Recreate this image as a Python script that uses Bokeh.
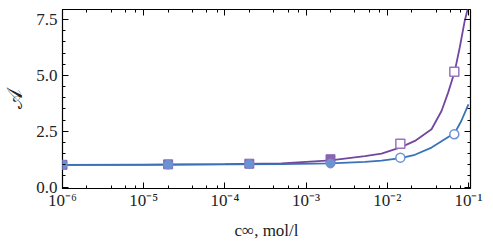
from bokeh.plotting import figure
from bokeh.models import (LinearAxis, LogAxis, Range1d, FixedTicker, LogTicker,
                          CustomJSTickFormatter, PrintfTickFormatter)
from bokeh.embed import file_html
from bokeh.resources import INLINE

# curves
purple_x = [1e-6, 1e-5, 1e-4, 5e-4, 2e-3, 5.3e-3, 8.5e-3, 1.46e-2, 2.19e-2, 3.51e-2,
            4.66e-2, 5.62e-2, 6.76e-2, 7.82e-2, 9.01e-2, 0.1]
purple_y = [1.0, 1.01, 1.03, 1.06, 1.2, 1.39, 1.5, 1.78, 2.07, 2.59,
            3.41, 4.23, 5.16, 6.26, 7.45, 8.1]
blue_x = [1e-6, 1e-5, 1e-4, 5e-4, 2e-3, 5.3e-3, 8.5e-3, 1.46e-2, 2.19e-2, 3.51e-2,
          5.1e-2, 6.76e-2, 8.16e-2, 0.1]
blue_y = [1.0, 1.0, 1.02, 1.03, 1.06, 1.13, 1.19, 1.3, 1.45, 1.77,
          2.14, 2.42, 2.96, 3.7]

# markers
conc_filled = [1e-6, 2e-5, 2e-4, 2e-3]
sq_filled = [1.0, 1.02, 1.05, 1.25]
circ_filled = [1.0, 1.01, 1.03, 1.06]
conc_open = [1.45e-2, 6.7e-2]
sq_open = [1.94, 5.16]
circ_open = [1.32, 2.37]

# y ticks
y_major = [0.0, 2.5, 5.0, 7.5]
y_minor = [0.5, 1.0, 1.5, 2.0, 3.0, 3.5, 4.0, 4.5, 5.5, 6.0, 6.5, 7.0]

FONT = "Liberation Serif"
PURPLE = "#72479f"
PURPLE_M = "#9a74bd"
BLUE = "#3a72b8"
BLUE_M = "#6d92d2"

p = figure(width=493, height=244, x_axis_type="log", output_backend="svg",
           toolbar_location=None, x_range=Range1d(1e-6, 0.106),
           y_range=Range1d(-0.06, 7.95), min_border_left=60, min_border_right=23,
           min_border_top=9, min_border_bottom=56)
p.grid.visible = False
p.outline_line_color = "black"
p.outline_line_width = 1.2

p.line(purple_x, purple_y, line_color=PURPLE, line_width=1.8)
p.line(blue_x, blue_y, line_color=BLUE, line_width=1.8)

p.scatter(conc_filled, sq_filled, marker="square", size=9, fill_color="#8a64b0",
          line_color="#8a64b0")
p.scatter(conc_filled, circ_filled, marker="circle", size=9, fill_color=BLUE_M,
          line_color=BLUE_M)
p.scatter(conc_open, sq_open, marker="square", size=9, fill_color="white",
          line_color=PURPLE_M, line_width=1.5)
p.scatter(conc_open, circ_open, marker="circle", size=9, fill_color="white",
          line_color=BLUE_M, line_width=1.5)

fmt = CustomJSTickFormatter(code="""
const sup = {'-':'\\u207b','0':'\\u2070','1':'\\u00b9','2':'\\u00b2','3':'\\u00b3','4':'\\u2074',
'5':'\\u2075','6':'\\u2076','7':'\\u2077','8':'\\u2078','9':'\\u2079'};
const e = String(Math.round(Math.log10(tick)));
return '10' + e.split('').map(c => sup[c]).join('');
""")

xt = LogTicker(desired_num_ticks=6)
yt = FixedTicker(ticks=y_major, minor_ticks=y_minor)

xa = p.xaxis[0]
xa.ticker = xt
xa.formatter = fmt
xa.axis_label = "c\u221e, mol/l"
ya = p.yaxis[0]
ya.ticker = yt
ya.formatter = PrintfTickFormatter(format="%.1f")
ya.axis_label = "\U0001D49C"

top = LogAxis(ticker=xt)
right = LinearAxis(ticker=yt)
for ax in (top, right):
    ax.major_label_text_font_size = "1px"
    ax.major_label_text_color = None
    ax.major_label_standoff = 0
p.add_layout(top, "above")
p.add_layout(right, "right")

for ax in (xa, ya, top, right):
    ax.major_tick_in = 6
    ax.major_tick_out = 0
    ax.minor_tick_in = 3
    ax.minor_tick_out = 0
    ax.axis_line_color = None
    ax.major_tick_line_color = "black"
    ax.minor_tick_line_color = "black"
for ax in (xa, ya):
    ax.major_label_text_font = FONT
    ax.major_label_text_font_size = "17px"
    ax.major_label_text_color = "#222222"
    ax.axis_label_text_font = FONT
    ax.axis_label_text_font_size = "17px"
    ax.axis_label_text_font_style = "normal"
    ax.axis_label_text_color = "#222222"
ya.axis_label_text_font_size = "21px"
xa.major_label_standoff = 2
xa.axis_label_standoff = 8
ya.major_label_standoff = 5
ya.axis_label_standoff = 6

open("out.html", "w").write(file_html(p, INLINE))
